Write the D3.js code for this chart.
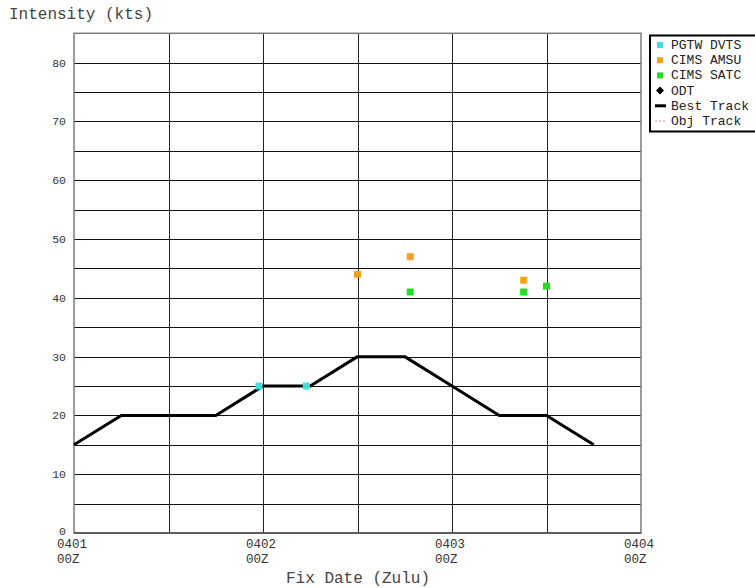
<!DOCTYPE html>
<html>
<head>
<meta charset="utf-8">
<script src="https://cdn.jsdelivr.net/npm/d3@7"></script>
<style>
  html, body { margin: 0; padding: 0; background: #ffffff; }
  svg { display: block; font-family: "Liberation Mono", "Courier New", monospace; }
</style>
</head>
<body>
<svg id="chart" width="755" height="588"></svg>
<script>
// Hours after 0401 00Z
const bestTrackHours = [0, 6, 12, 18, 24, 30, 36, 42, 48, 54, 60, 66];
const bestTrackKts   = [15, 20, 20, 20, 25, 25, 30, 30, 25, 20, 20, 15];

const pgtwHours = [23.5, 29.5];
const pgtwKts   = [25, 25];

const amsuHours = [36, 42.7, 57.1];
const amsuKts   = [44, 47, 43];

const satcHours = [42.7, 57.1, 60];
const satcKts   = [41, 41, 42];

const dayTickHours = [0, 24, 48, 72];
const dayTickLabels = [["0401", "00Z"], ["0402", "00Z"], ["0403", "00Z"], ["0404", "00Z"]];
const yTickValues = [0, 10, 20, 30, 40, 50, 60, 70, 80];

const legendLabels = ["PGTW DVTS", "CIMS AMSU", "CIMS SATC", "ODT", "Best Track", "Obj Track"];

const colors = { pgtw: "#3fe0e0", amsu: "#f7a020", satc: "#22dd22" };

const svg = d3.select("#chart");

const x = d3.scaleLinear().domain([0, 72]).range([74, 641]);
const y = d3.scaleLinear().domain([0, 85]).range([533, 33.3]);

// grid: horizontal every 5 kts, vertical every 12 hours
svg.append("g").selectAll("line")
  .data(d3.range(5, 85, 5))
  .join("line")
  .attr("x1", x(0)).attr("x2", x(72))
  .attr("y1", d => Math.round(y(d)) + 0.5).attr("y2", d => Math.round(y(d)) + 0.5)
  .attr("stroke", "#111").attr("stroke-width", 1);

svg.append("g").selectAll("line")
  .data(d3.range(12, 72, 12))
  .join("line")
  .attr("x1", d => Math.round(x(d)) + 0.5).attr("x2", d => Math.round(x(d)) + 0.5)
  .attr("y1", y(85)).attr("y2", y(0))
  .attr("stroke", "#222").attr("stroke-width", 1);

// plot frame
svg.append("rect")
  .attr("x", x(0)).attr("y", y(85))
  .attr("width", x(72) - x(0)).attr("height", y(0) - y(85))
  .attr("fill", "none").attr("stroke", "#7a7a7a").attr("stroke-width", 1.5);
svg.append("line")
  .attr("x1", x(0)).attr("x2", x(72)).attr("y1", y(0)).attr("y2", y(0))
  .attr("stroke", "#222").attr("stroke-width", 1.2);

// y tick labels (the zero label sits a little higher to clear the date labels)
svg.append("g").selectAll("text")
  .data(yTickValues)
  .join("text")
  .attr("x", 66).attr("y", d => y(d) + (d === 0 ? 2 : 4))
  .attr("text-anchor", "end")
  .attr("font-size", 11.5)
  .attr("fill", "#333")
  .text(d => d);

// x tick labels (date / hour on two lines)
const xt = svg.append("g").selectAll("text")
  .data(dayTickHours.map((h, i) => ({ h, lines: dayTickLabels[i] })))
  .join("text")
  .attr("font-size", 12.5)
  .attr("fill", "#333");
xt.append("tspan").attr("x", d => x(d.h) - 17).attr("y", 548).text(d => d.lines[0]);
xt.append("tspan").attr("x", d => x(d.h) - 17).attr("y", 563).text(d => d.lines[1]);

// axis titles
svg.append("text").attr("x", 9).attr("y", 19)
  .attr("font-size", 16).attr("fill", "#444").text("Intensity (kts)");
svg.append("text").attr("x", 358).attr("y", 583).attr("text-anchor", "middle")
  .attr("font-size", 16).attr("fill", "#444").text("Fix Date (Zulu)");

// best track
svg.append("path")
  .datum(bestTrackHours.map((h, i) => [h, bestTrackKts[i]]))
  .attr("d", d3.line().x(d => x(d[0])).y(d => y(d[1])))
  .attr("fill", "none").attr("stroke", "#000").attr("stroke-width", 3)
  .attr("stroke-linejoin", "round");

// fix markers
function squares(hours, kts, color) {
  svg.append("g").selectAll("rect")
    .data(hours.map((h, i) => [h, kts[i]]))
    .join("rect")
    .attr("x", d => x(d[0]) - 3.5).attr("y", d => y(d[1]) - 3.5)
    .attr("width", 7).attr("height", 7)
    .attr("fill", color);
}
squares(pgtwHours, pgtwKts, colors.pgtw);
squares(amsuHours, amsuKts, colors.amsu);
squares(satcHours, satcKts, colors.satc);

// legend
const lg = svg.append("g");
lg.append("rect").attr("x", 650).attr("y", 35.5).attr("width", 108).attr("height", 96)
  .attr("fill", "#fff").attr("stroke", "#000").attr("stroke-width", 2);
const rowY = i => 45 + i * 15.2;
const sym = [
  g => g.append("rect").attr("x", 657).attr("y", -3).attr("width", 6).attr("height", 6).attr("fill", colors.pgtw),
  g => g.append("rect").attr("x", 657).attr("y", -3).attr("width", 6).attr("height", 6).attr("fill", colors.amsu),
  g => g.append("rect").attr("x", 657).attr("y", -3).attr("width", 6).attr("height", 6).attr("fill", colors.satc),
  g => g.append("path").attr("d", "M660,-4L664,0L660,4L656,0Z").attr("fill", "#000"),
  g => g.append("line").attr("x1", 655).attr("x2", 666).attr("y1", 0).attr("y2", 0).attr("stroke", "#000").attr("stroke-width", 3),
  g => g.append("line").attr("x1", 655).attr("x2", 667).attr("y1", 0).attr("y2", 0).attr("stroke", "#e88").attr("stroke-width", 1).attr("stroke-dasharray", "2,2")
];
legendLabels.forEach((label, i) => {
  const g = lg.append("g").attr("transform", `translate(0,${rowY(i)})`);
  sym[i](g);
  g.append("text").attr("x", 671).attr("y", 4).attr("font-size", 13).attr("fill", "#222").text(label);
});
</script>
</body>
</html>
